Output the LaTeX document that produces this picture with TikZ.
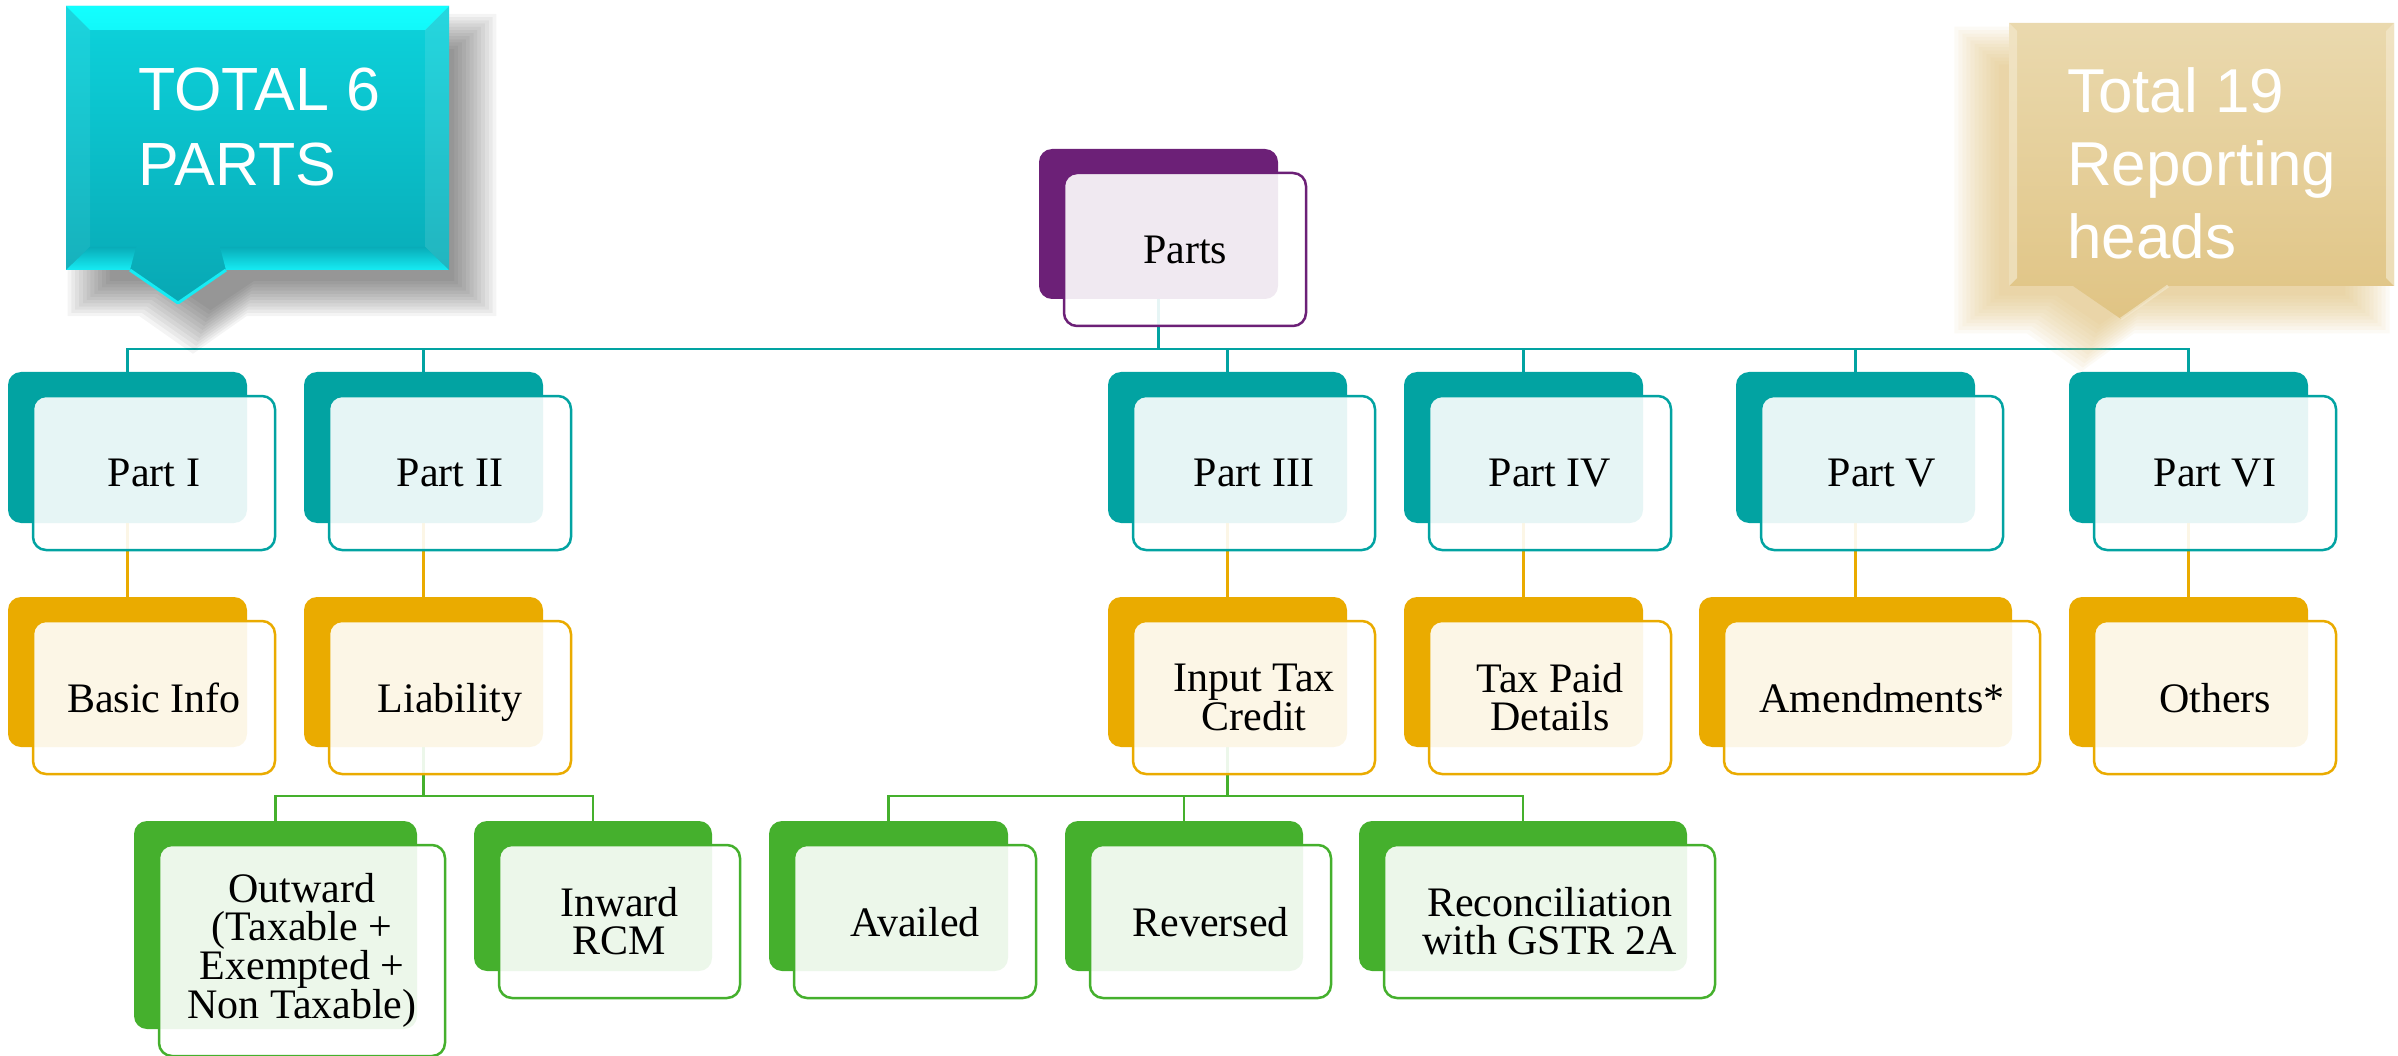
\documentclass[tikz,border=0pt]{standalone}
\usepackage{fontspec}
\setmainfont{Liberation Serif}
\newfontfamily\calloutfont{Liberation Sans}
\pgfdeclarelayer{bg}
\pgfsetlayers{bg,main}
\definecolor{tealc}{HTML}{02A3A2}
\definecolor{goldc}{HTML}{EAAB00}
\definecolor{greenc}{HTML}{45B02D}
\definecolor{purplec}{HTML}{6C2077}
\definecolor{cybevel}{HTML}{12FFFF}
\definecolor{cytop}{HTML}{0DD3DC}
\definecolor{cybot}{HTML}{08A8B4}
\definecolor{cyedge}{HTML}{16ECF4}
\definecolor{gdtop}{HTML}{EAD9AE}
\definecolor{gdbot}{HTML}{E0C484}
\definecolor{gdglow}{HTML}{D9B565}
\definecolor{gdlight}{HTML}{F3E8CC}
\tikzset{
  backbox/.style={rectangle, rounded corners=13pt, inner sep=0pt, outer sep=0pt, draw=none},
  frontbox/.style={rectangle, rounded corners=13pt, inner sep=0pt, outer sep=0pt,
    line width=2.5pt, fill=white, fill opacity=0.9, draw opacity=1, text opacity=1,
    align=center, font=\fontsize{42}{38}\selectfont},
  sline/.style={text depth=0pt},
  conn/.style={line width=2.5pt},
  callouttext/.style={text=white, inner sep=0pt, align=left, anchor=north west},
}
\newcommand{\twobox}[8]{%
  \node[backbox, fill=#6, minimum width=#4pt, minimum height=#5pt] (#1b) at ({#2+#4/2},{#3+#5/2}) {};
  \node[frontbox, draw=#6, minimum width=#4pt+3pt, minimum height=#5pt+3pt, #7] (#1) at ({#2+25+(#4+3)/2},{#3+24+(#5+3)/2}) {#8};
}
\begin{document}
\begin{tikzpicture}[x=1pt,y=-1pt]
\useasboundingbox (0,0) rectangle (2398,1056);

% ---------- cyan callout ----------
\foreach \k in {0,...,11}
  \fill[black, opacity=0.042, shift={(282,165)}, xscale={0.9+0.02*\k}, yscale={0.88+0.024*\k}]
    (-191.5,-132) -- (191.5,-132) -- (191.5,132) -- (-31.5,132) -- (-79.5,165) -- (-127.5,132) -- (-191.5,132) -- cycle;
\shade[top color=cytop, bottom color=cybot]
  (66,6) -- (449,6) -- (449,270) -- (226,270) -- (178,303) -- (130,270) -- (66,270) -- cycle;
\shade[top color=cybevel, bottom color=cybevel!85!cytop] (66,6) -- (449,6) -- (425,30) -- (90,30) -- cycle;
\fill[white, opacity=0.06] (66,6) -- (90,30) -- (90,247) -- (66,270) -- cycle;
\fill[white, opacity=0.10] (449,6) -- (425,30) -- (425,247) -- (449,270) -- cycle;
\shade[top color=cybot!90!cytop, bottom color=cyedge] (66,270) -- (90,247) -- (136,247) -- (130,270) -- cycle;
\shade[top color=cybot!90!cytop, bottom color=cyedge] (226,270) -- (220,247) -- (425,247) -- (449,270) -- cycle;
\draw[line width=3pt, cyedge, line join=round] (130,270) -- (178,303) -- (226,270);
\node[callouttext, font=\calloutfont\fontsize{61}{75}\selectfont] (t6) at (138,68) {TOTAL 6\\PARTS};

% ---------- gold callout ----------
\foreach \k in {0,...,11}
  \fill[gdglow, opacity=0.065, shift={(2172,180)}, xscale={0.9+0.021*\k}, yscale={0.88+0.026*\k}]
    (-192.5,-131.5) -- (192.5,-131.5) -- (192.5,131.5) -- (-33.5,131.5) -- (-80.5,164.5) -- (-128.5,131.5) -- (-192.5,131.5) -- cycle;
\shade[top color=gdtop, bottom color=gdbot]
  (2009,23) -- (2394,23) -- (2394,286) -- (2168,286) -- (2121,319) -- (2073,286) -- (2009,286) -- cycle;
\fill[gdlight, opacity=0.7] (2009,23) -- (2017,31) -- (2017,278) -- (2009,286) -- cycle;
\fill[gdlight, opacity=0.7] (2394,23) -- (2386,31) -- (2386,278) -- (2394,286) -- cycle;
\draw[line width=3pt, gdlight, opacity=0.7] (2168,286) -- (2121,319);
\node[callouttext, font=\calloutfont\fontsize{62}{73}\selectfont] (t19) at (2067,67) {Total 19\\Reporting\\heads};

% ---------- boxes ----------
\twobox{parts}{1039}{149}{239}{150}{purplec}{sline}{Parts}

\twobox{p1}{8}{372}{239}{151}{tealc}{sline}{Part I}
\twobox{p2}{304}{372}{239}{151}{tealc}{sline}{Part II}
\twobox{p3}{1108}{372}{239}{151}{tealc}{sline}{Part III}
\twobox{p4}{1404}{372}{239}{151}{tealc}{sline}{Part IV}
\twobox{p5}{1736}{372}{239}{151}{tealc}{sline}{Part V}
\twobox{p6}{2069}{372}{239}{151}{tealc}{sline}{Part VI}

\twobox{b1}{8}{597}{239}{150}{goldc}{sline}{Basic Info}
\twobox{b2}{304}{597}{239}{150}{goldc}{sline}{Liability}
\twobox{b3}{1108}{597}{239}{150}{goldc}{}{Input Tax\\Credit}
\twobox{b4}{1404}{597}{239}{150}{goldc}{}{Tax Paid\\Details}
\twobox{b5}{1699}{597}{313}{150}{goldc}{sline}{Amendments*}
\twobox{b6}{2069}{597}{239}{150}{goldc}{sline}{Others}

\twobox{c1}{134}{821}{283}{208}{greenc}{}{Outward\\(Taxable +\\Exempted +\\Non Taxable)}
\twobox{c2}{474}{821}{238}{150}{greenc}{}{Inward\\RCM}
\twobox{c3}{769}{821}{239}{150}{greenc}{sline}{Availed}
\twobox{c4}{1065}{821}{238}{150}{greenc}{sline}{Reversed}
\twobox{c5}{1359}{821}{328}{150}{greenc}{}{Reconciliation\\with GSTR 2A}

% ---------- connectors ----------
\begin{pgfonlayer}{bg}
\coordinate (busA) at (0,349);
\coordinate (busB) at (0,796);
\draw[conn, tealc] (partsb.south) -- (partsb.south |- busA);
\draw[conn, tealc] (p1b.north) |- (busA -| p6b.north) -- (p6b.north);
\draw[conn, tealc] (p2b.north) -- (p2b.north |- busA);
\draw[conn, tealc] (p3b.north) -- (p3b.north |- busA);
\draw[conn, tealc] (p4b.north) -- (p4b.north |- busA);
\draw[conn, tealc] (p5b.north) -- (p5b.north |- busA);

\draw[conn, goldc] (p1b.south) -- (b1b.north);
\draw[conn, goldc] (p2b.south) -- (b2b.north);
\draw[conn, goldc] (p3b.south) -- (b3b.north);
\draw[conn, goldc] (p4b.south) -- (b4b.north);
\draw[conn, goldc] (p5b.south) -- (b5b.north);
\draw[conn, goldc] (p6b.south) -- (b6b.north);

\draw[conn, greenc] (b2b.south) -- (b2b.south |- busB);
\draw[conn, greenc] (c1b.north) |- (busB -| c2b.north) -- (c2b.north);
\draw[conn, greenc] (b3b.south) -- (b3b.south |- busB);
\draw[conn, greenc] (c3b.north) |- (busB -| c5b.north) -- (c5b.north);
\draw[conn, greenc] (c4b.north) -- (c4b.north |- busB);
\end{pgfonlayer}
\end{tikzpicture}
\end{document}
